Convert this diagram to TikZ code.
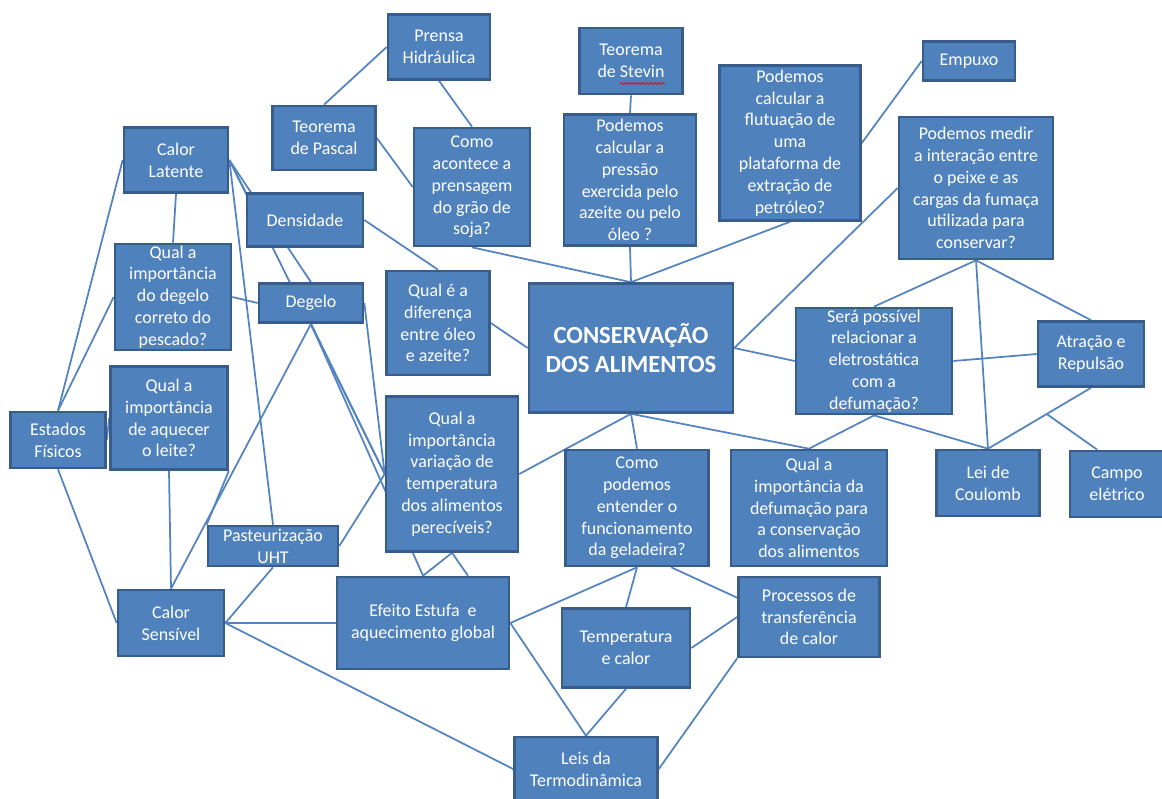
\documentclass[tikz,border=0pt]{standalone}
\usepackage{fontspec}
\setmainfont{Carlito}
\usetikzlibrary{backgrounds,decorations.pathmorphing}

\definecolor{caixa}{RGB}{79,129,189}
\definecolor{borda}{RGB}{56,93,138}
\definecolor{linha}{RGB}{84,132,192}

\tikzset{
  conceito/.style={draw=borda, fill=caixa, line width=1.5pt, text=white, align=center,
    inner sep=1pt, font=\fontsize{10.2}{12.4}\selectfont},
  ligacao/.style={draw=linha, line width=1pt},
}

\begin{document}
\begin{tikzpicture}[x=0.02cm, y=-0.02cm]
\useasboundingbox (0,0) rectangle (1162,798);

\node[conceito, minimum width=4.08cm, minimum height=2.58cm,
  font=\bfseries\fontsize{14}{17}\selectfont] (Conserv) at (631,348) {CONSERVAÇÃO\\DOS ALIMENTOS};

\node[conceito, minimum width=2.04cm, minimum height=1.30cm] (Prensa) at (439,47) {Prensa\\Hidráulica};
\node[conceito, minimum width=2.06cm, minimum height=1.28cm] (Pascal) at (324,138) {Teorema\\de Pascal};
\node[conceito, minimum width=2.08cm, minimum height=1.30cm] (Latente) at (176,160) {Calor\\Latente};
\node[conceito, minimum width=2.32cm, minimum height=1.06cm] (Densidade) at (305,220) {Densidade};
\node[conceito, minimum width=2.32cm, minimum height=2.36cm] (Prensagem) at (472,187) {Como\\acontece a\\prensagem\\do grão de\\soja?};
\node[conceito, minimum width=2.06cm, minimum height=1.32cm] (Stevin) at (631,61) {Teorema\\de Stevin};
\node[conceito, minimum width=2.64cm, minimum height=2.62cm] (Pressao) at (630,180) {Podemos\\calcular a\\pressão\\exercida pelo\\azeite ou pelo\\óleo ?};
\node[conceito, minimum width=2.82cm, minimum height=3.10cm] (Flutuacao) at (790,143) {Podemos\\calcular a\\flutuação de\\uma\\plataforma de\\extração de\\petróleo?};
\node[conceito, minimum width=1.84cm, minimum height=0.78cm] (Empuxo) at (969,61) {Empuxo};
\node[conceito, minimum width=3.08cm, minimum height=2.84cm] (Medir) at (976,188) {Podemos medir\\a interação entre\\o peixe e as\\cargas da fumaça\\utilizada para\\conservar?};

\node[conceito, minimum width=2.32cm, minimum height=2.12cm] (DegeloPesc) at (173,297) {Qual a\\importância\\do degelo\\correto do\\pescado?};
\node[conceito, minimum width=2.08cm, minimum height=0.78cm] (Degelo) at (311,303) {Degelo};
\node[conceito, minimum width=2.06cm, minimum height=2.08cm] (Diferenca) at (438,323) {Qual é a\\diferença\\entre óleo\\e azeite?};
\node[conceito, minimum width=3.12cm, minimum height=2.12cm] (Eletro) at (874,361) {Será possível\\relacionar a\\eletrostática\\com a\\defumação?};
\node[conceito, minimum width=2.12cm, minimum height=1.30cm] (Atracao) at (1091,354) {Atração e\\Repulsão};

\node[conceito, minimum width=1.90cm, minimum height=1.12cm] (Estados) at (58,440) {Estados\\Físicos};
\node[conceito, minimum width=2.34cm, minimum height=2.06cm] (Leite) at (169,418) {Qual a\\importância\\de aquecer\\o leite?};
\node[conceito, minimum width=2.64cm, minimum height=3.10cm] (Variacao) at (452,474) {Qual a\\importância\\variação de\\temperatura\\dos alimentos\\perecíveis?};
\node[conceito, minimum width=2.86cm, minimum height=2.32cm] (Geladeira) at (637,508) {Como\\podemos\\entender o\\funcionamento\\da geladeira?};
\node[conceito, minimum width=3.12cm, minimum height=2.32cm] (Defumacao) at (809,508) {Qual a\\importância da\\defumação para\\a conservação\\dos alimentos};
\node[conceito, minimum width=2.06cm, minimum height=1.32cm] (Coulomb) at (988,483) {Lei de\\Coulomb};
\node[conceito, minimum width=1.88cm, minimum height=1.32cm] (Campo) at (1117,484) {Campo\\elétrico};

\node[conceito, minimum width=2.60cm, minimum height=0.80cm] (Pasteur) at (273,546) {Pasteurização\\UHT};
\node[conceito, minimum width=2.12cm, minimum height=1.32cm] (Sensivel) at (171,623) {Calor\\Sensível};
\node[conceito, minimum width=3.44cm, minimum height=1.84cm] (Estufa) at (423,623) {Efeito Estufa\ \ e\\aquecimento global};
\node[conceito, minimum width=2.56cm, minimum height=1.58cm] (TempCalor) at (626,648) {Temperatura\\e calor};
\node[conceito, minimum width=2.82cm, minimum height=1.60cm] (Processos) at (809,617) {Processos de\\transferência\\de calor};
\node[conceito, minimum width=2.86cm, minimum height=1.28cm] (Leis) at (586,769) {Leis da\\Termodinâmica};

% sublinhado do corretor
\draw[red, line width=0.5pt, decorate, decoration={snake, amplitude=0.5pt, segment length=2.4pt}]
  ([xshift=-0.22cm, yshift=-0.45cm]Stevin.center) -- ([xshift=0.68cm, yshift=-0.45cm]Stevin.center);

\begin{pgfonlayer}{background}
\path[every edge/.style=ligacao]
(Prensa.west) edge (Pascal.north)
(Prensa.south) edge (Prensagem.north)
(Pascal.east) edge (Prensagem.west)
(Stevin.south) edge (Pressao.north)
(Prensagem.south) edge (Conserv.north)
(Pressao.south) edge (Conserv.north)
(Flutuacao.south) edge (Conserv.north)
(Flutuacao.east) edge (Empuxo.west)
(Medir.west) edge (Conserv.east)
(Medir.south) edge (Eletro.north)
(Medir.south) edge (Coulomb.north)
(Medir.south) edge (Atracao.north)
(Conserv.east) edge (Eletro.west)
(Eletro.east) edge (Atracao.west)
(Eletro.south) edge (Coulomb.north)
(Eletro.south) edge (Defumacao.north)
(Conserv.south) edge (Defumacao.north)
(Conserv.south) edge (Geladeira.north)
(Conserv.south) edge (Variacao.east)
(Densidade.east) edge (Diferenca.north)
(Diferenca.east) edge (Conserv.west)
(Latente.west) edge (Estados.north)
(DegeloPesc.west) edge (Estados.north)
(Latente.south) edge (DegeloPesc.north)
(Latente.east) edge (Densidade.north west)
(Latente.east) edge (Degelo.north)
(Latente.east) edge (Variacao.west)
(Latente.east) edge (Pasteur.north)
(DegeloPesc.east) edge (Degelo.west)
(Degelo.south) edge (Sensivel.north)
(Degelo.south) edge (Variacao.west)
(Degelo.east) edge (Variacao.west)
(Degelo.south) edge (Estufa.north)
(Estados.east) edge (Leite.west)
(Estados.south) edge (Sensivel.west)
(Leite.south) edge (Sensivel.north)
(Leite.south east) edge (Pasteur.north west)
(Pasteur.south) edge (Sensivel.east)
(Pasteur.east) edge (Variacao.west)
(Sensivel.east) edge (Estufa.west)
(Sensivel.east) edge (Leis.west)
(Variacao.south) edge (Estufa.north)
(Variacao.south) edge ([xshift=0.9cm]Estufa.north)
(Estufa.east) edge (Geladeira.south)
(Estufa.east) edge (Leis.north)
(Geladeira.south) edge (TempCalor.north)
(Geladeira.-60) edge (Processos.165)
(TempCalor.east) edge (Processos.west)
(TempCalor.south) edge (Leis.north)
(Processos.south west) edge (Leis.east);
\draw[ligacao] (Atracao.south) -- coordinate[pos=0.43] (Juncao) (Coulomb.north);
\path[every edge/.style=ligacao] (Juncao) edge (Campo.120);
\end{pgfonlayer}
\end{tikzpicture}
\end{document}
